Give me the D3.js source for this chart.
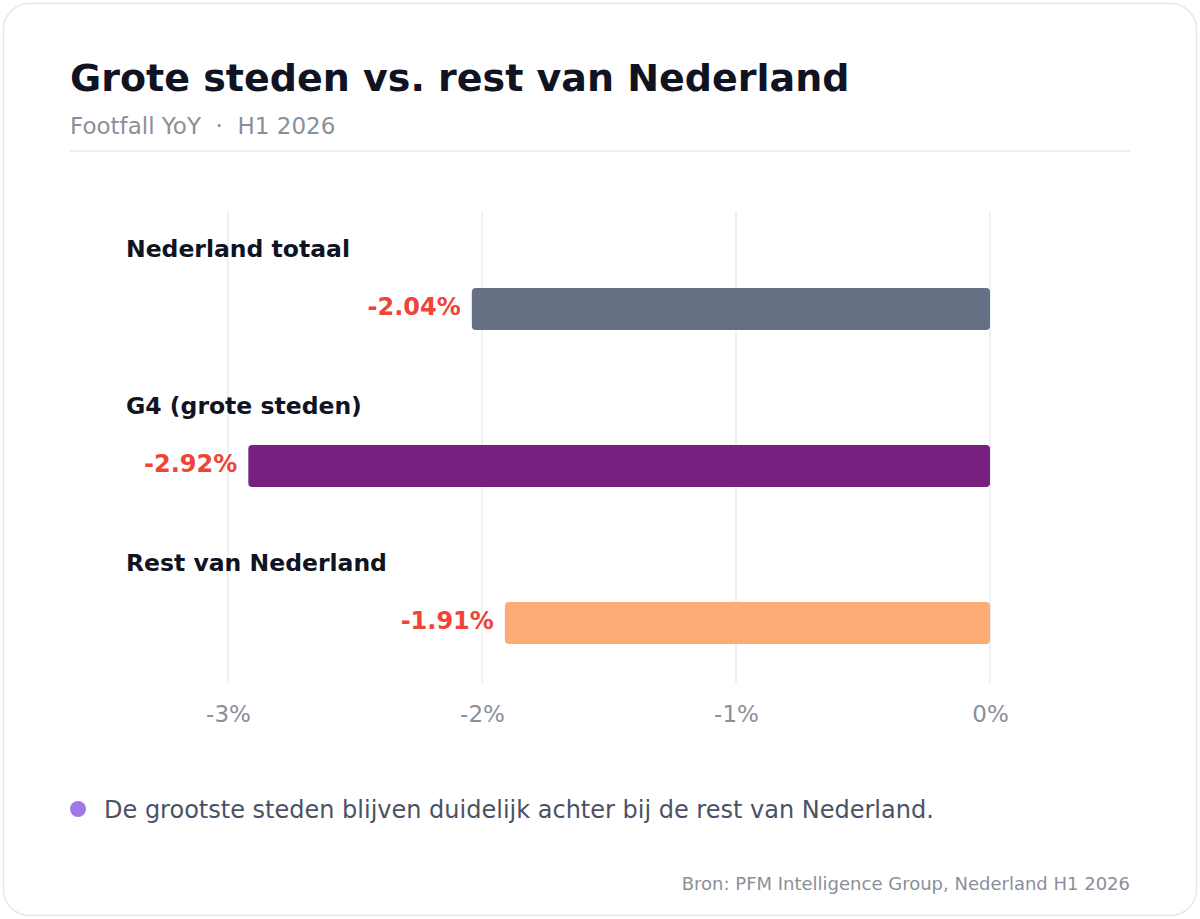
<!DOCTYPE html>
<html>
<head>
<meta charset="utf-8">
<script src="https://cdn.jsdelivr.net/npm/d3@7"></script>
<style>
  body { margin: 0; background: #fff; font-family: "DejaVu Sans", sans-serif; }
</style>
</head>
<body>
<div id="chart"></div>
<script>
// data
var categories = ["Nederland totaal", "G4 (grote steden)", "Rest van Nederland"];
var values = [-2.04, -2.92, -1.91];
var barColors = ["#667085", "#76207f", "#ffab76"];
var tickValues = [-3, -2, -1, 0];

var width = 1200, height = 919;

var svg = d3.select("#chart").append("svg")
    .attr("width", width)
    .attr("height", height);

// card
svg.append("rect")
    .attr("x", 3.5).attr("y", 3.5)
    .attr("width", width - 7).attr("height", height - 7)
    .attr("rx", 26)
    .attr("fill", "#fff")
    .attr("stroke", "#e5e7eb")
    .attr("stroke-width", 1.5);

// header
svg.append("text")
    .attr("x", 70).attr("y", 91)
    .attr("font-size", 38).attr("font-weight", "bold")
    .attr("fill", "#0f1322")
    .text("Grote steden vs. rest van Nederland");

svg.append("text")
    .attr("x", 70).attr("y", 134)
    .attr("font-size", 23)
    .attr("fill", "#8a8f9a")
    .attr("xml:space", "preserve")
    .text("Footfall YoY  \u00b7  H1 2026");

svg.append("line")
    .attr("x1", 70).attr("x2", 1130)
    .attr("y1", 151).attr("y2", 151)
    .attr("stroke", "#e8e9ee").attr("stroke-width", 1.5);

// scales
var x = d3.scaleLinear().domain([-3, 0]).range([228, 990]);
var y = d3.scaleBand().domain(categories).range([212, 683]);

// grid
svg.append("g").selectAll("line")
    .data(tickValues)
    .enter().append("line")
    .attr("x1", function(d) { return x(d); })
    .attr("x2", function(d) { return x(d); })
    .attr("y1", 212).attr("y2", 683)
    .attr("stroke", "#eef0f3").attr("stroke-width", 2);

// axis labels
var axis = d3.axisBottom(x)
    .tickValues(tickValues)
    .tickSize(0)
    .tickPadding(0)
    .tickFormat(function(d) { return d + "%"; });

var ax = svg.append("g")
    .attr("transform", "translate(0,706)")
    .call(axis);
ax.select(".domain").remove();
ax.selectAll("text")
    .attr("font-family", "DejaVu Sans, sans-serif")
    .attr("font-size", 23)
    .attr("fill", "#8a8f9a");

// rows
var rows = svg.append("g").selectAll("g")
    .data(categories)
    .enter().append("g")
    .attr("transform", function(d) { return "translate(0," + y(d) + ")"; });

rows.append("text")
    .attr("x", 126).attr("y", 45)
    .attr("font-size", 23.5).attr("font-weight", "bold")
    .attr("fill", "#0f1322")
    .text(function(d) { return d; });

rows.append("rect")
    .attr("x", function(d, i) { return x(values[i]); })
    .attr("y", 76)
    .attr("width", function(d, i) { return x(0) - x(values[i]); })
    .attr("height", 42)
    .attr("rx", 4)
    .attr("fill", function(d, i) { return barColors[i]; });

rows.append("text")
    .attr("x", function(d, i) { return x(values[i]) - 11; })
    .attr("y", 103)
    .attr("text-anchor", "end")
    .attr("font-size", 24).attr("font-weight", "bold")
    .attr("fill", "#f04438")
    .text(function(d, i) { return values[i].toFixed(2) + "%"; });

// footnote
svg.append("circle")
    .attr("cx", 78).attr("cy", 809).attr("r", 8)
    .attr("fill", "#a078ea");

svg.append("text")
    .attr("x", 104).attr("y", 818)
    .attr("font-size", 24)
    .attr("fill", "#4a5265")
    .text("De grootste steden blijven duidelijk achter bij de rest van Nederland.");

svg.append("text")
    .attr("x", 1130).attr("y", 890)
    .attr("text-anchor", "end")
    .attr("font-size", 18)
    .attr("fill", "#8a8f9a")
    .text("Bron: PFM Intelligence Group, Nederland H1 2026");
</script>
</body>
</html>
